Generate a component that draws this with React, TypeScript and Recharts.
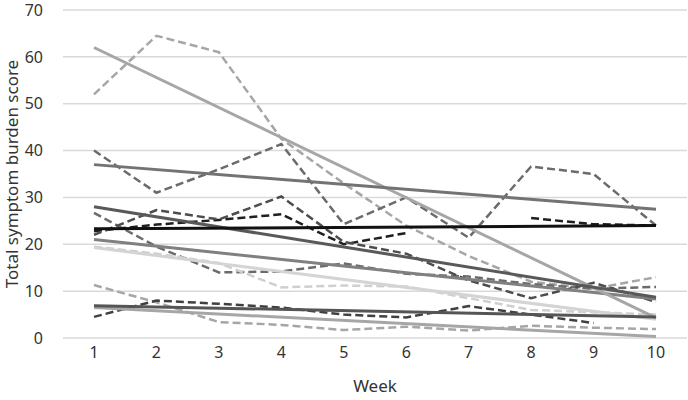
import { LineChart, Line, XAxis, YAxis, CartesianGrid } from "recharts";

const weeks = ["1", "2", "3", "4", "5", "6", "7", "8", "9", "10"];
const yTicks = [0, 10, 20, 30, 40, 50, 60, 70];

// weekly scores per patient (dashed)
const patientA = [52, 64.5, 61, 42.5, 33, 24, 17.5, 12, 10.5, 13];
const patientB = [40, 31, 36, 41.4, 24.3, 30, 21.4, 36.6, 35, 24];
const patientC = [22.8, 24.2, 25.2, 26.4, 20, 22.4, null, 25.6, 24.3, 24];
const patientD = [26.7, 19.5, 14, 14.2, 15.9, 13.7, 13.1, 11.5, 10.5, 10.9];
const patientE = [22, 27.3, 25.3, 30.2, 20.5, 18, 12.3, 8.5, 11.8, 7.7];
const patientF = [19.5, 18, 16, 10.8, 11.2, 11, 8.5, 6, 5.5, 5];
const patientG = [11.3, 7.6, 3.4, 2.8, 1.7, 2.4, 1.6, 2.6, 2.2, 1.9];
const patientH = [4.5, 8, 7.3, 6.5, 5, 4.4, 6.8, 5, 3.2, null];

// linear trend lines, week 1 and week 10 ends
const trendA = [62, null, null, null, null, null, null, null, null, 4.3];
const trendB = [37, null, null, null, null, null, null, null, null, 27.5];
const trendC = [23.3, null, null, null, null, null, null, null, null, 24];
const trendD = [21, null, null, null, null, null, null, null, null, 8.3];
const trendE = [28, null, null, null, null, null, null, null, null, 8.7];
const trendF = [19.3, null, null, null, null, null, null, null, null, 4];
const trendG = [6.5, null, null, null, null, null, null, null, null, 0.3];
const trendH = [6.9, null, null, null, null, null, null, null, null, 4.5];

const series = [
  { key: "pA", values: patientA, color: "#a6a6a6", dashed: true },
  { key: "pB", values: patientB, color: "#6b6b6b", dashed: true },
  { key: "pC", values: patientC, color: "#1f1f1f", dashed: true },
  { key: "pD", values: patientD, color: "#6b6b6b", dashed: true },
  { key: "pE", values: patientE, color: "#4d4d4d", dashed: true },
  { key: "pF", values: patientF, color: "#cfcfcf", dashed: true },
  { key: "pG", values: patientG, color: "#a6a6a6", dashed: true },
  { key: "pH", values: patientH, color: "#404040", dashed: true },
  { key: "tF", values: trendF, color: "#d4d4d4", dashed: false },
  { key: "tG", values: trendG, color: "#a6a6a6", dashed: false },
  { key: "tD", values: trendD, color: "#808080", dashed: false },
  { key: "tA", values: trendA, color: "#a6a6a6", dashed: false },
  { key: "tB", values: trendB, color: "#737373", dashed: false },
  { key: "tE", values: trendE, color: "#595959", dashed: false },
  { key: "tH", values: trendH, color: "#555555", dashed: false },
  { key: "tC", values: trendC, color: "#111111", dashed: false },
];

const data = weeks.map((w, i) => {
  const row: Record<string, string | number | null> = { week: w };
  series.forEach((s) => {
    row[s.key] = s.values[i];
  });
  return row;
});

const font = "'Noto Sans', sans-serif";

export default function App() {
  return (
    <div style={{ position: "absolute", left: 0, top: 0, width: 688, height: 400, background: "#fff" }}>
      <LineChart
        width={688}
        height={400}
        data={data}
        margin={{ top: 10, right: 1, bottom: 0, left: 0 }}
      >
        <CartesianGrid vertical={false} stroke="#d9d9d9" strokeWidth={1.5} />
        <XAxis
          dataKey="week"
          height={62}
          padding={{ left: 31, right: 31 }}
          axisLine={false}
          tickLine={false}
          tickMargin={3}
          tick={{ fill: "#333333", fontSize: 16, fontFamily: font }}
          label={{
            value: "Week",
            position: "insideBottom",
            offset: 8,
            style: { fill: "#333333", fontSize: 17, fontFamily: font },
          }}
        />
        <YAxis
          width={63}
          domain={[0, 70]}
          ticks={yTicks}
          axisLine={false}
          tickLine={false}
          tickMargin={14}
          tick={{ fill: "#333333", fontSize: 16, fontFamily: font }}
          label={{
            value: "Total symptom burden score",
            angle: -90,
            position: "insideLeft",
            offset: 12,
            style: { fill: "#333333", fontSize: 17, fontFamily: font, textAnchor: "middle" },
          }}
        />
        {series.map((s) => (
          <Line
            key={s.key}
            dataKey={s.key}
            type="linear"
            stroke={s.color}
            strokeWidth={s.dashed ? 2.5 : 3}
            strokeDasharray={s.dashed ? "8 4" : undefined}
            dot={false}
            activeDot={false}
            connectNulls={!s.dashed}
            isAnimationActive={false}
          />
        ))}
      </LineChart>
    </div>
  );
}
